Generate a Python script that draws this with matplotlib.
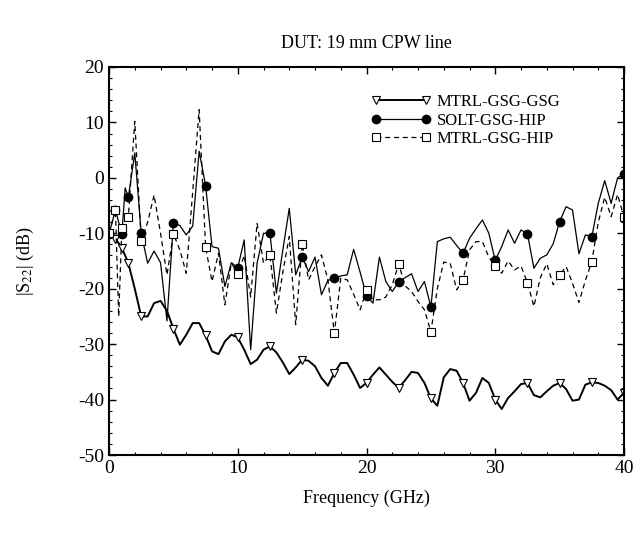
import matplotlib
matplotlib.use("Agg")
import matplotlib.pyplot as plt
from matplotlib.ticker import MultipleLocator
import numpy as np

plt.rcParams['font.family'] = ['Liberation Serif', 'DejaVu Serif']
plt.rcParams['mathtext.fontset'] = 'stix'
plt.rcParams['axes.unicode_minus'] = False

# frequency grid (GHz): a few extra points at the start, then 0.5 GHz step
freq = np.concatenate([[0, 0.5, 0.75, 1.0, 1.25, 1.5], np.arange(2, 40.01, 0.5)])

# MTRL-GSG-GSG (triangles)
mtrl_gsg = [-10, -11, -11.8, -12.7, -14, -15.4, -20, -25, -25, -22.6, -22.2, -24,
            -27.2, -30.1, -28.3, -26.2, -26.2, -28.4, -31.3, -31.8, -29.5, -28.3,
            -28.8, -31, -33.6, -32.8, -31, -30.4, -31.5, -33.3, -35.4, -34.2,
            -32.8, -33, -34, -36.1, -37.5, -35.2, -33.4, -33.4, -35.5, -37.9,
            -37, -35.5, -34.2, -35.5, -36.8, -37.9, -36.5, -35, -35.2, -37,
            -39.8, -41.1, -36, -34.5, -34.8, -37, -40.2, -38.8, -36.1, -37,
            -40, -41.7, -39.7, -38.5, -37.2, -37, -39.2, -39.6, -38.5, -37.5,
            -37, -38.1, -40.2, -40, -37.3, -36.9, -37, -37.5, -38.3, -40,
            -38.8]

# SOLT-GSG-HIP (filled circles)
solt_hip = [-10.1, -5.8, -8, -10.1, -1.8, -3.5, 4.5, -10, -15.4, -13.2, -15.3, -25.8,
            -8.2, -8.6, -10.3, -8.7, 4.8, -1.4, -12.4, -12.7, -19.6, -15.3,
            -16.2, -11.2, -31, -15.4, -10, -10, -20.8, -13, -5.5, -17.5,
            -14.3, -16.9, -14.3, -21.1, -18.5, -18.1, -17.7, -17.5, -12.9, -17,
            -21.3, -22.6, -14.3, -18.7, -20.5, -18.8, -18, -17.3, -20.5, -18.7,
            -23.3, -11.5, -11, -10.7, -12.2, -13.6, -10.9, -9.2, -7.6, -10,
            -14.9, -12.4, -9.4, -11.8, -9.4, -10.1, -16.3, -14.5, -13.9, -11.9,
            -7.9, -5.2, -5.8, -13.7, -10.3, -10.6, -4.6, -0.5, -4.6, 0,
            0.7]

# MTRL-GSG-HIP (open squares, dashed)
mtrl_hip = [-10, -5.8, -25, -9, -8, -7, 10.2, -11.4, -8, -3.1, -10, -17.5,
            -10.1, -13, -17.2, -2.5, 12.3, -12.5, -18.7, -13.6, -22.9, -15.3,
            -17.4, -14, -21.5, -8.2, -15.4, -13.9, -24.4, -17, -10.6, -26.5,
            -11.9, -18.4, -16, -13.9, -18.4, -28, -18.1, -18.4, -21, -23.8,
            -20.3, -22, -22, -21.5, -19.3, -15.5, -19.5, -20.5, -22.3, -23.8,
            -27.8, -20, -15.2, -15.4, -20.2, -18.4, -13, -11.5, -11.5, -14.3,
            -15.9, -17.2, -15, -16.6, -15.9, -18.9, -23.2, -18, -15.5, -19.3,
            -17.5, -16, -19, -22.5, -18.5, -15.1, -8, -3.5, -7, -3,
            -7.1]

mark_freqs = [0, 0.5, 1.0, 1.5] + list(np.arange(2.5, 40.01, 2.5))
marks = list(np.where(np.isin(freq, mark_freqs))[0])

fig = plt.figure(figsize=(6.35, 5.35), dpi=100)
ax = fig.add_axes([0.1717, 0.1495, 0.811, 0.7253])

ax.plot(freq, mtrl_gsg, color='black', lw=1.4, marker='v', ms=6,
        mfc='white', mec='black', mew=0.8, markevery=marks, label='MTRL-GSG-GSG')
ax.plot(freq, solt_hip, color='black', lw=0.9, marker='o', ms=6,
        mfc='black', mec='black', markevery=marks, label='SOLT-GSG-HIP')
ax.plot(freq, mtrl_hip, color='black', lw=0.9, ls=(0, (4, 3)), marker='s', ms=5.5,
        mfc='white', mec='black', mew=0.8, markevery=marks, label='MTRL-GSG-HIP')

ax.set_xlim(0, 40)
ax.set_ylim(-50, 20)
ax.xaxis.set_major_locator(MultipleLocator(10))
ax.xaxis.set_minor_locator(MultipleLocator(2))
ax.yaxis.set_major_locator(MultipleLocator(10))
ax.yaxis.set_minor_locator(MultipleLocator(2))
ax.tick_params(which='both', direction='in', top=True, right=True, labelsize=14)
ax.tick_params(which='major', length=5, width=1)
ax.tick_params(which='minor', length=2.5, width=0.8)
for s in ax.spines.values():
    s.set_linewidth(1.5)

ax.set_xlabel('Frequency (GHz)', fontsize=13, labelpad=9)
ax.set_ylabel(r'|S$_{22}$| (dB)', fontsize=13, labelpad=30)
ax.set_title('DUT: 19 mm CPW line', fontsize=13, pad=14)

leg = ax.legend(loc='upper right', bbox_to_anchor=(0.876, 0.93), frameon=False,
                fontsize=12, numpoints=2, handlelength=3.6, handletextpad=0.3,
                labelspacing=0.15, borderaxespad=0, borderpad=0)

fig.savefig('out.png', dpi=100)
